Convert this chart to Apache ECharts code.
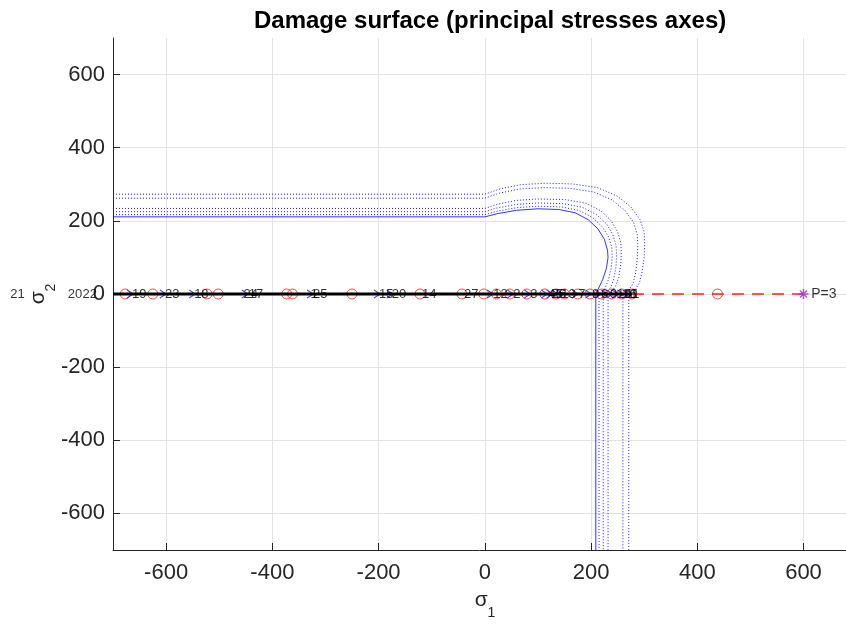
<!DOCTYPE html>
<html><head><meta charset="utf-8">
<script src="https://cdn.jsdelivr.net/npm/echarts@6/dist/echarts.min.js"></script>
<style>html,body{margin:0;padding:0;background:#fff}#c{width:846px;height:626px}</style>
</head><body><div id="c"></div>
<script>
const titleText = 'Damage surface (principal stresses axes)';
const xTicks = [-600, -400, -200, 0, 200, 400, 600];
const yTicks = [-600, -400, -200, 0, 200, 400, 600];

// damage surfaces: solid (initial) and dotted (evolved)
const surfaceSolid = [[-700,211],[0,211],[25,220],[60,229],[100,233],[140,231],[170,222],[195,203],[213,178],[225,150],[231,120],[232,100],[229,70],[222,40],[213,12],[209,0],[209,-700]];
const surfaceDot1 = [[-700,217],[0,217],[25,227],[60,236],[100,240],[145,238],[178,228],[203,209],[221,184],[233,156],[239,128],[240,104],[238,72],[233,40],[226,15],[219,4],[215,0],[215,-700]];
const surfaceDot2 = [[-700,225],[0,225],[25,236],[60,245],[100,249],[148,247],[184,237],[210,217],[229,192],[241,163],[247,133],[248,108],[247,75],[243,42],[237,18],[229,5],[223,0],[223,-700]];
const surfaceDot3 = [[-700,234],[0,234],[25,246],[60,256],[100,260],[152,258],[191,248],[219,227],[238,200],[250,170],[256,140],[257,114],[256,80],[252,45],[246,20],[238,6],[232,0],[232,-700]];
const surfaceDot4 = [[-700,262],[0,262],[28,276],[65,287],[110,291],[160,289],[205,279],[240,257],[264,228],[280,196],[287,162],[288,131],[287,95],[284,58],[279,28],[270,9],[260,0],[260,-700]];
const surfaceDot5 = [[-700,273],[0,273],[30,288],[68,299],[115,303],[165,301],[212,291],[249,268],[275,238],[292,204],[300,170],[301,137],[300,100],[296,60],[291,30],[282,10],[271,0],[271,-700]];

const blackPath = [[-700,0],[277,0]];
const redDashPath = [[277,0],[600,0]];
const redCircleX = [-677,-625,-523,-502,-373,-362,-250,-122,-43,-2,22,47,79,113,134,150,175,198,220,239,258,277,438];
const blueMarkerX = [-668,-606,-551,-452,-329,-203,-179,10,48,80,112,122,132,142,170,195,213,225,235,245,255,265,272];
const finalPoint = [[600,0]];
const finalLabel = 'P=3';
const labelX =    [-897,-789,-761,-668,-606,-551,-458,-448,-332,-327,-203,-179,-122,-43,12,50,82,115,122,130,140,172,198,215,232,245,255,262,270];
const labelText = ['21','20','22','19','23','18','24','17','1','25','15','20','14','27','12','2','3','4','26','5','13','7','8','6','9','10','16','11','1'];

const FONT = 'Liberation Sans, Arial, Helvetica, sans-serif';
const AX = '#262626';
const TITLE_SIZE = 24;
const AXES_CENTER_X = 485;

const mctx = document.createElement('canvas').getContext('2d');
mctx.font = 'bold ' + TITLE_SIZE + 'px Liberation Sans';
const titleW = mctx.measureText(titleText).width;

const chart = echarts.init(document.getElementById('c'), null, {renderer: 'canvas'});

function line(data, dotted, z) {
  return {type: 'line', data: data, showSymbol: false, symbol: 'none', z: z || 2, silent: true,
    lineStyle: {color: '#1010ff', width: 1, type: dotted ? [1, 2] : 'solid', opacity: dotted ? 0.95 : 0.85}};
}

const asterisk = 'path://M0,5 L10,5 M5,0 L5,10 M1.5,1.5 L8.5,8.5 M8.5,1.5 L1.5,8.5';
const chevron = 'path://M0,0 L10,5 L0,10';

const nameRich = {
  a: {fontFamily: FONT, fontSize: 21, color: AX, lineHeight: 30, verticalAlign: 'top'},
  b: {fontFamily: FONT, fontSize: 14, color: AX, lineHeight: 30, verticalAlign: 'bottom'}};

chart.setOption({
  animation: false,
  backgroundColor: '#fff',
  title: {text: titleText, left: Math.round(AXES_CENTER_X - titleW / 2), top: 4,
    textStyle: {fontFamily: FONT, fontSize: TITLE_SIZE, fontWeight: 'bold', color: '#000'}},
  grid: {left: 113, top: 38, right: 0, height: 512, containLabel: false},
  xAxis: {type: 'value', min: -700, max: 680,
    name: '{a|σ}{b|1}', nameLocation: 'middle', nameGap: 40,
    nameTextStyle: {rich: nameRich, padding: [0, 0, 0, 2 * (485 - (113 + 733 / 2))]},
    axisLine: {show: true, onZero: false, lineStyle: {color: AX, width: 1}},
    axisTick: {show: true, inside: true, length: 7, customValues: xTicks, lineStyle: {color: AX}},
    axisLabel: {customValues: xTicks, fontFamily: FONT, fontSize: 22, color: AX, margin: 12},
    splitLine: {show: true, lineStyle: {color: '#e3e3e3', width: 1}}},
  yAxis: {type: 'value', min: -700, max: 700,
    name: '{a|σ}{b|2}', nameLocation: 'middle', nameGap: 55, nameRotate: 90, nameMoveOverlap: false,
    nameTextStyle: {rich: nameRich},
    axisLine: {show: true, onZero: false, lineStyle: {color: AX, width: 1}},
    axisTick: {show: true, inside: true, length: 7, customValues: yTicks, lineStyle: {color: AX}},
    axisLabel: {customValues: yTicks, fontFamily: FONT, fontSize: 22, color: AX, margin: 8},
    splitLine: {show: true, lineStyle: {color: '#e3e3e3', width: 1}}},
  series: [
    line(surfaceSolid, false),
    line(surfaceDot1, true),
    line(surfaceDot2, true),
    line(surfaceDot3, true),
    line(surfaceDot4, true),
    line(surfaceDot5, true),
    {type: 'scatter', data: redCircleX.map(x => [x, 0]), symbol: 'circle', symbolSize: 10, z: 4, silent: true,
      itemStyle: {color: 'rgba(0,0,0,0)', borderColor: '#ff1a1a', borderWidth: 1}},
    {type: 'scatter', data: blueMarkerX.map(x => [x, 0]), symbol: chevron, symbolSize: [6, 8], z: 4, silent: true,
      itemStyle: {color: 'rgba(0,0,0,0)', borderColor: '#1a1ad0', borderWidth: 1.2}},
    {type: 'line', data: blackPath, symbol: 'none', z: 5, silent: true, lineStyle: {color: '#000', width: 3}},
    {type: 'line', data: redDashPath, symbol: 'none', z: 5, silent: true, lineStyle: {color: '#ff2020', width: 1.5, type: [12, 8]}},
    {type: 'scatter', data: finalPoint, symbol: asterisk, symbolSize: 10, z: 6, silent: true,
      itemStyle: {color: 'rgba(0,0,0,0)', borderColor: '#9b30d0', borderWidth: 1.5},
      label: {show: true, position: 'right', distance: 2, formatter: finalLabel, fontFamily: FONT, fontSize: 14, color: '#000'}},
    {type: 'scatter', clip: false, z: 7, silent: true, symbolSize: 0,
      data: labelX.map((x, i) => ({value: [x, 0], name: labelText[i]})),
      label: {show: true, position: 'right', distance: 2, formatter: p => p.name, fontFamily: FONT, fontSize: 13, color: '#000'}}
  ]
});
</script></body></html>
